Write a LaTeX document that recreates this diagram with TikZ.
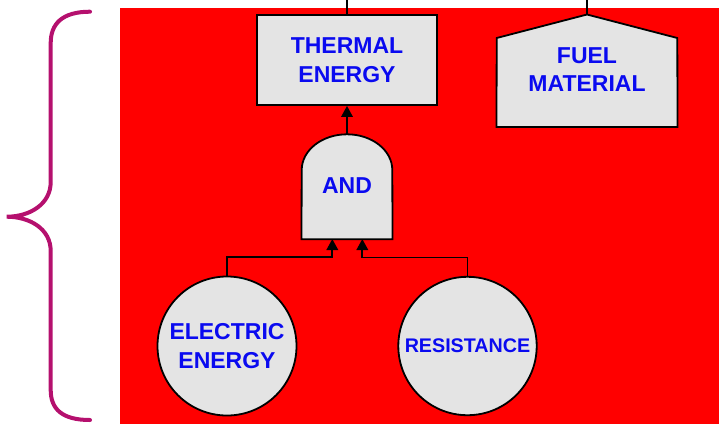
\documentclass[tikz,border=0pt]{standalone}
\usepackage{fontspec}
\setmainfont{Liberation Sans}
\usetikzlibrary{arrows.meta}
\definecolor{bgred}{RGB}{255,0,0}
\definecolor{boxgray}{RGB}{228,228,228}
\definecolor{txtblue}{RGB}{10,10,240}
\definecolor{bracecol}{RGB}{181,16,110}
\begin{document}
\begin{tikzpicture}[x=1pt,y=-1pt,
  txt/.style={text=txtblue,font=\fontsize{23}{28.4}\selectfont\bfseries,align=center,inner sep=0pt},
  shapeline/.style={draw=black,line width=1.8pt,fill=boxgray},
  conn/.style={draw=black,line width=1.8pt},
  arr/.style={conn,-{Triangle[length=11pt,width=11.5pt]}}
]
\useasboundingbox (0,0) rectangle (719,424);
\fill[bgred] (120,8) rectangle (719,424);
% brace
\draw[bracecol,line width=4pt,line cap=round]
  (90,11.7) .. controls (62,11.7) and (50.7,24) .. (50.7,43)
  -- (50.7,182) .. controls (50.7,204) and (30,216.7) .. (6.7,216.7)
  .. controls (30,216.7) and (50.7,229) .. (50.7,251)
  -- (50.7,390) .. controls (50.7,409) and (62,420) .. (90,420);
% thermal energy
\node[txt,shapeline,minimum width=180pt,minimum height=90pt] (therm) at (347,60) {THERMAL\\ENERGY};
\coordinate (thtop) at (347,0);
\draw[conn] (therm.north) -- (thtop);
% fuel material (house)
\node[txt,minimum width=180.6pt,minimum height=112pt] (fuel) at (587,70.7) {};
\draw[shapeline] (fuel.south west) -- (496.7,38) -- (fuel.north) -- (677.3,38) -- (fuel.south east) -- cycle;
\node[txt] (fueltext) at (587,69.5) {FUEL\\MATERIAL};
\coordinate (futop) at (587,0);
\draw[conn] (fuel.north) -- (futop);
% AND gate
\node[txt,minimum width=90.6pt,minimum height=104.7pt] (and) at (347,186.65) {};
\draw[shapeline] (and.south west) -- (301.7,170) arc[start angle=180,end angle=360,x radius=45.3,y radius=35.7] -- (and.south east) -- cycle;
\node[txt] (andtext) at (347,185.3) {AND};
\draw[arr] (and.north) -- (therm.south);
% events
\node[txt,shapeline,circle,minimum size=139pt] (elec) at (227,346) {ELECTRIC\\ENERGY};
\node[txt,shapeline,circle,minimum size=138.4pt,font=\fontsize{19.7}{24}\selectfont\bfseries] (res) at (467.5,346) {RESISTANCE};
\coordinate (in1) at (332.3,239);
\coordinate (in2) at (362.3,239);
\draw[arr] (elec.north) -- ++(0,-18.4) -| (in1);
\draw[arr] (res.north) -- ++(0,-18.4) -| (in2);
\end{tikzpicture}
\end{document}
